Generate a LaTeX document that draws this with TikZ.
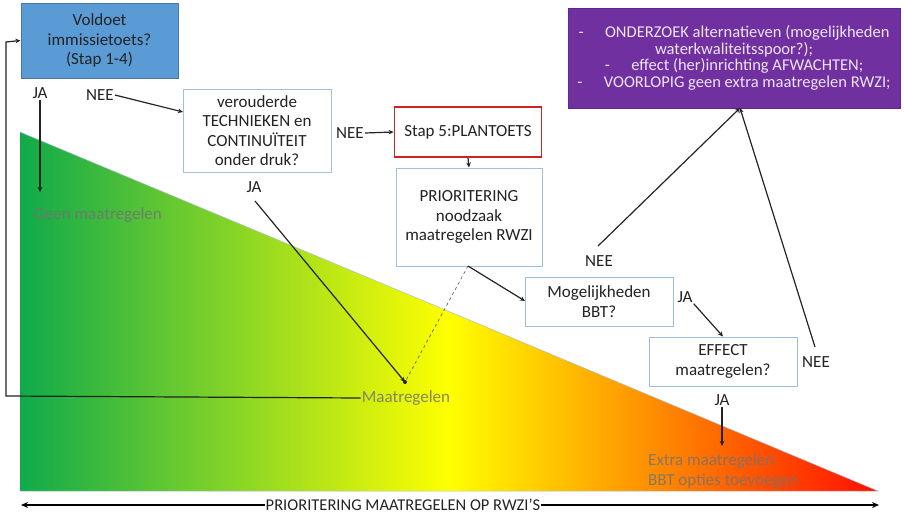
\documentclass[tikz,border=0pt]{standalone}
\usepackage{fontspec}
\setmainfont{Carlito}
\usetikzlibrary{arrows.meta}
\definecolor{boxline}{RGB}{160,190,222}
\definecolor{txt}{RGB}{35,35,35}
\definecolor{gGreen}{RGB}{16,170,75}
\definecolor{gYellow}{RGB}{255,255,0}
\definecolor{gRed}{RGB}{255,15,0}
\definecolor{triLine}{RGB}{170,190,210}
\definecolor{blueFill}{RGB}{91,155,213}
\definecolor{blueLine}{RGB}{70,120,170}
\definecolor{redLine}{RGB}{205,35,35}
\definecolor{purpFill}{RGB}{112,48,160}
\definecolor{purpLine}{RGB}{95,40,140}
\definecolor{purpTxt}{RGB}{238,228,248}
\definecolor{ghostTxt}{RGB}{115,115,115}
\tikzset{
  flowbox/.style={draw=boxline, line width=1pt, fill=white, align=center, text=txt, inner sep=2pt},
  lbl/.style={text=txt, inner sep=1pt},
  ghost/.style={text=ghostTxt, text opacity=0.85, inner sep=1pt},
  arr/.style={draw=txt, line width=1.2pt, -{Stealth[length=5pt,width=4.5pt]}},
}
\begin{document}
\begin{tikzpicture}[x=1pt,y=-1pt, font=\fontsize{17}{19.5}\selectfont]
\useasboundingbox (0,0) rectangle (904,515);

% gradient triangle
\shade[left color=gGreen, right color=gRed, middle color=gYellow]
  (20,132) -- (20,491) -- (878,491) -- cycle;
\draw[triLine, line width=0.5pt] (20,132) -- (878,491) -- (20,491);

% boxes
\node[draw=blueLine, fill=blueFill, line width=1pt, text=txt, align=center,
      minimum width=157pt, minimum height=75pt] (voldoet) at (99.5,40.5)
      {Voldoet\\immissietoets?\\(Stap 1-4)};
\node[flowbox, minimum width=148pt, minimum height=83pt] (verou) at (257,130.5)
      {verouderde\\TECHNIEKEN en\\CONTINUÏTEIT\\onder druk?};
\node[flowbox, draw=redLine, line width=1.8pt, minimum width=147pt, minimum height=50pt] (plan) at (468,132)
      {Stap 5:PLANTOETS};
\node[flowbox, minimum width=146pt, minimum height=98pt] (prior) at (469,217)
      {PRIORITERING\\noodzaak\\maatregelen RWZI};
\node[flowbox, minimum width=148pt, minimum height=49pt] (mogel) at (599,301.5)
      {Mogelijkheden\\BBT?};
\node[flowbox, minimum width=148pt, minimum height=49pt] (effect) at (723,361.5)
      {EFFECT\\maatregelen?};
\node[draw=purpLine, fill=purpFill, line width=1pt, text=purpTxt, align=center,
      minimum width=332pt, minimum height=100pt, inner sep=0pt,
      font=\fontsize{16.5}{16.5}\selectfont] (purp) at (734,58)
      {-\hspace{1.3em}ONDERZOEK alternatieven (mogelijkheden\\
       waterkwaliteitsspoor?);\\
       -\hspace{1.3em}effect (her)inrichting AFWACHTEN;\\
       -\hspace{1.3em}VOORLOPIG geen extra maatregelen RWZI;};

% labels
\node[lbl] (ja1) at (40,93) {JA};
\node[lbl] (nee1) at (100,95) {NEE};
\node[ghost] (geen) at (98,215) {Geen maatregelen};
\node[lbl] (ja2) at (254,187) {JA};
\node[lbl] (nee2) at (350,133) {NEE};
\node[lbl] (nee3) at (599,261) {NEE};
\node[lbl] (ja3) at (685,297) {JA};
\node[lbl] (nee4) at (816,362) {NEE};
\node[lbl] (ja4) at (722,400) {JA};
\node[ghost] (maat) at (406,398) {Maatregelen};
\node[ghost, anchor=west, align=left, font=\fontsize{17}{20}\selectfont] (extra) at (647,471)
      {Extra maatregelen\\BBT opties toevoegen};
\node[lbl, font=\fontsize{16.5}{18}\selectfont] (prio) at (403,505) {PRIORITERING MAATREGELEN OP RWZI’S};

% coordinates
\coordinate (geenTip) at (40,192);
\coordinate (verIn) at (183,112);
\coordinate (junc) at (405,382);
\coordinate (priorOut) at (468,266);
\coordinate (mogIn) at (525,301);
\coordinate (purpIn) at (740,108);
\coordinate (nee3top) at (598,246);
\coordinate (nee4top) at (815,347);
\coordinate (ja2low) at (255,201);
\coordinate (extraTip) at (722,446);
\coordinate (fbA) at (6,396);
\coordinate (fbB) at (6,42);
\coordinate (leftEnd) at (21,505);
\coordinate (rightEnd) at (879,505);

% connectors
\draw[arr] (ja1.south) -- (geenTip);
\draw[arr] (nee1.east) -- (verIn);
\draw[arr] (ja2low) -- (junc);
\draw[draw=txt!70, line width=0.7pt, dashed] (priorOut) -- (junc);
\fill[txt] (junc) circle (2pt);
\draw[arr] (nee2.east) -- (plan.west);
\draw[arr] (plan.south) -- (prior.north);
\draw[arr] (priorOut) -- (mogIn);
\draw[arr] (nee3top) -- (purpIn);
\draw[arr] (nee4top) -- (purpIn);
\draw[arr] (ja3.south east) -- (effect.north);
\draw[arr] (ja4.south) -- (extraTip);
\draw[arr] (maat.west) -- (fbA) -- (fbB) -- (voldoet.west);
\draw[draw=black, line width=2pt, -{Stealth[length=7pt,width=6pt]}] (prio.west) -- (leftEnd);
\draw[draw=black, line width=2pt, -{Stealth[length=7pt,width=6pt]}] (prio.east) -- (rightEnd);
\end{tikzpicture}
\end{document}
